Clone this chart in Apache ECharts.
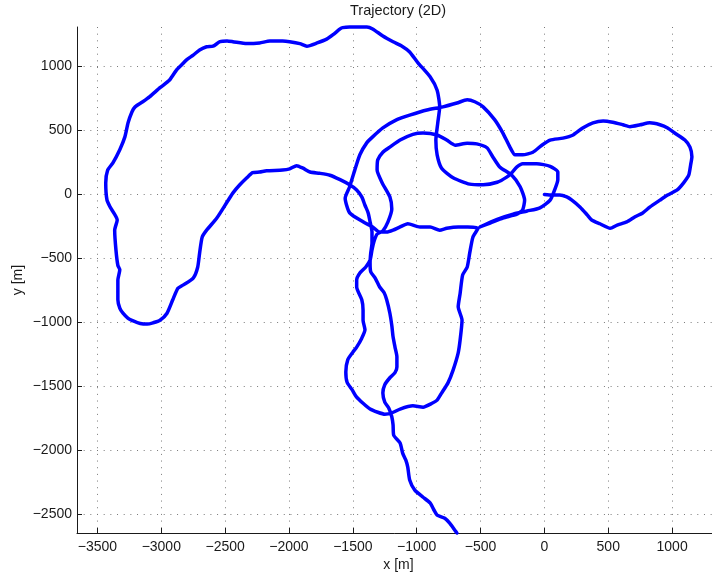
<!DOCTYPE html>
<html>
<head>
<meta charset="utf-8">
<title>Trajectory (2D)</title>
<script src="https://cdn.jsdelivr.net/npm/echarts@6/dist/echarts.min.js"></script>
<style>
  html, body { margin: 0; padding: 0; background: #ffffff; }
  #chart { width: 712px; height: 578px; }
</style>
</head>
<body>
<div id="chart"></div>
<script>
// Vehicle position in metres, in driving order, starting at the origin.
const trajX = [
  0, 60, 120, 175, 215, 280, 335, 370, 435, 515, 570, 645, 710, 770, 825, 905, 965, 1040, 1090, 1130,
  1145, 1155, 1140, 1100, 1020, 965, 905, 825, 750, 670, 615, 535, 460, 380, 300, 225, 145, 45, -20, -90,
  -170, -230, -270, -325, -390, -480, -545, -605, -685, -795, -920, -1055, -1155, -1265, -1345, -1390, -1445, -1485, -1525, -1560,
  -1525, -1420, -1345, -1290, -1235, -1185, -1130, -1070, -975, -895, -820, -765, -675, -600, -520,
  -560, -585, -605, -640, -660, -675, -645, -660, -675, -715, -755, -805, -840, -880, -950, -1030, -1130, -1195, -1250, -1305,
  -1365, -1420, -1475, -1505, -1545, -1555, -1540, -1500, -1470, -1430, -1405, -1420, -1420, -1430, -1470, -1470, -1445, -1400, -1365, -1350,
  -1335, -1310, -1265, -1225, -1195, -1210, -1270, -1310, -1305, -1265, -1210, -1130, -1030, -950, -840, -765, -700, -605, -530, -450,
  -405, -350, -255, -190, -155, -170, -215, -325, -425, -505,
  -370, -245, -135, -35, 45, 80, 105, 105, 45, -60, -170, -215, -255, -295, -370, -480, -585, -715, -805, -840,
  -850, -835, -820, -840, -895, -990, -1055, -1115, -1185, -1265, -1345, -1390, -1445, -1525, -1580, -1600, -1655, -1705, -1780, -1860,
  -1915, -1995, -2050, -2150, -2230, -2330, -2440, -2485, -2540, -2595, -2645, -2700, -2750, -2800, -2840, -2880, -2935, -3010, -3090, -3145,
  -3205, -3230, -3260, -3285, -3325, -3380, -3420, -3435, -3425, -3400, -3345, -3365, -3355, -3340, -3325, -3340, -3340, -3325, -3300, -3260,
  -3220, -3165, -3110, -3065, -3010, -2955, -2910, -2870, -2830, -2750, -2715, -2700, -2680, -2645, -2565, -2485, -2440, -2385, -2330, -2285,
  -2230, -2175, -2050, -1995, -1940, -1890, -1835, -1760, -1680, -1600, -1525, -1470, -1430, -1405, -1380, -1365, -1350, -1350, -1360, -1365,
  -1360, -1325, -1290, -1255, -1235, -1210, -1195, -1185, -1170, -1155, -1155, -1170, -1210, -1250, -1265, -1250, -1220, -1195, -1185, -1180,
  -1130, -1110, -1085, -1070, -1055, -1015, -950, -895, -865, -840, -780, -740, -700, -685
];
const trajY = [
  0, -5, -5, -20, -45, -100, -160, -200, -230, -265, -240, -215, -175, -145, -100, -45, -5, 35, 90, 150,
  230, 295, 370, 425, 480, 520, 545, 560, 545, 530, 545, 565, 575, 560, 520, 465, 440, 425, 385, 330,
  310, 310, 370, 480, 585, 685, 725, 740, 715, 685, 660, 620, 585, 520, 450, 405, 310, 190, 60, -30,
  -145, -215, -255, -295, -295, -280, -255, -230, -255, -255, -280, -265, -255, -255, -265,
  -335, -460, -570, -630, -775, -880, -985, -1140, -1240, -1375, -1475, -1555, -1610, -1635, -1665, -1655, -1680, -1710, -1720, -1705,
  -1680, -1635, -1580, -1530, -1470, -1390, -1295, -1235, -1195, -1125, -1060, -985, -905, -825, -725, -670, -615, -570, -515, -435,
  -370, -310, -285, -215, -115, -20, 90, 190, 270, 330, 370, 425, 470, 480, 465, 425, 385, 400, 395, 365,
  295, 215, 150, 60, -45, -120, -155, -185, -225, -255,
  -195, -155, -130, -105, -45, 35, 115, 175, 220, 240, 240, 215, 170, 135, 95, 75, 80, 130, 205, 310,
  425, 560, 685, 815, 920, 1030, 1115, 1160, 1195, 1240, 1295, 1310, 1310, 1310, 1305, 1295, 1250, 1215, 1185, 1160,
  1180, 1195, 1200, 1200, 1185, 1180, 1195, 1200, 1195, 1160, 1155, 1130, 1090, 1055, 1015, 975, 895, 835, 765, 725,
  685, 645, 560, 450, 350, 245, 190, 90, -45, -100, -200, -280, -435, -555, -590, -670, -825, -890, -930, -970,
  -990, -1010, -1015, -1005, -985, -930, -825, -735, -710, -655, -570, -460, -335, -280, -185, -60, 10, 75, 130, 170,
  175, 185, 190, 200, 225, 205, 175, 165, 150, 115, 75, 35, -20, -85, -145, -215, -295, -380, -460, -535,
  -605, -655, -725, -770, -825, -930, -1025, -1115, -1195, -1270, -1350, -1395, -1435, -1490, -1555, -1625, -1670, -1740, -1805, -1885,
  -1945, -2025, -2080, -2135, -2235, -2315, -2370, -2415, -2470, -2510, -2535, -2575, -2630, -2650
];

// Axis limits (metres) and tick spacing
const xLimits = [-3660, 1375];
const yLimits = [-2650, 1310];
const tickStep = 500;

const titleText = 'Trajectory (2D)';
const xName = 'x [m]';
const yName = 'y [m]';

const points = trajX.map((x, i) => [x, trajY[i]]);

const FONT = '"Liberation Sans", Arial, Helvetica, sans-serif';
const INK = '#1a1a1a';
const minusSign = v => String(v).replace('-', '\u2212');

function axisCommon(limits, labelMargin) {
  return {
    type: 'value',
    min: limits[0],
    max: limits[1],
    minInterval: tickStep,
    maxInterval: tickStep,
    nameLocation: 'middle',
    nameMoveOverlap: false,
    nameTextStyle: { color: INK, fontFamily: FONT, fontSize: 14 },
    axisLine: { show: true, onZero: false, lineStyle: { color: INK, width: 1 } },
    axisTick: { show: true, inside: true, length: 5, lineStyle: { color: INK, width: 1 } },
    axisLabel: {
      color: INK, fontFamily: FONT, fontSize: 14, margin: labelMargin,
      showMinLabel: false, showMaxLabel: false,
      formatter: minusSign
    },
    splitLine: {
      show: true, showMinLine: false, showMaxLine: false,
      lineStyle: { color: '#7a7a7a', width: 1, type: [1, 5.67] }
    }
  };
}

const chart = echarts.init(document.getElementById('chart'), null, { renderer: 'canvas' });
chart.setOption({
  backgroundColor: '#ffffff',
  animation: false,
  title: {
    text: titleText,
    left: 345,
    top: -2,
    textStyle: { color: INK, fontFamily: FONT, fontSize: 14.5, fontWeight: 'normal' }
  },
  grid: {
    left: 77, top: 27, width: 643, height: 506,
    containLabel: false, outerBoundsMode: 'none'
  },
  xAxis: Object.assign(axisCommon(xLimits, 7), { name: xName, nameGap: 25 }),
  yAxis: Object.assign(axisCommon(yLimits, 5), { name: yName, nameGap: 52 }),
  series: [{
    type: 'line',
    data: points,
    showSymbol: false,
    smooth: 0.2,
    clip: false,
    lineStyle: { color: '#0000ff', width: 3.5, cap: 'round', join: 'round' }
  }]
});
</script>
</body>
</html>
